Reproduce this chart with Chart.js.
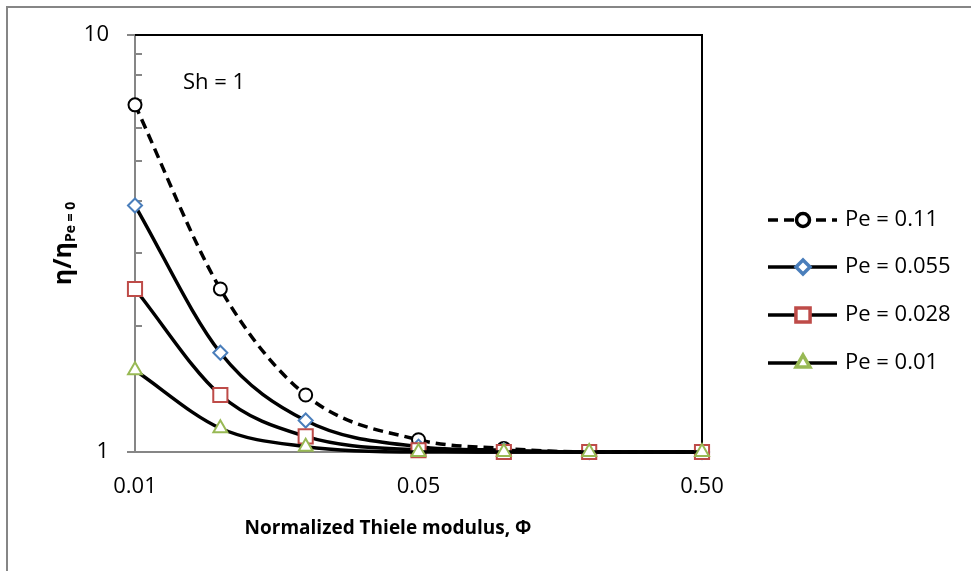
<!DOCTYPE html>
<html>
<head>
<meta charset="utf-8">
<script src="https://cdn.jsdelivr.net/npm/chart.js@4/dist/chart.umd.min.js"></script>
<style>
  html, body { margin: 0; padding: 0; background: #fff; }
</style>
</head>
<body>
<canvas id="ThieleChart" width="971" height="571"></canvas>
<script>
// normalized Thiele modulus (x) and eta / eta(Pe=0) for each Peclet number
var phi = [0.005, 0.01, 0.02, 0.05, 0.1, 0.2, 0.5];
var pe011 = [6.8, 2.46, 1.37, 1.07, 1.02, 1.0, 1.0];
var pe0055 = [3.9, 1.73, 1.19, 1.03, 1.01, 1.0, 1.0];
var pe0028 = [2.46, 1.37, 1.09, 1.01, 1.0, 1.0, 1.0];
var pe001 = [1.57, 1.14, 1.03, 1.0, 1.0, 1.0, 1.0];
var seriesNames = ['Pe = 0.11', 'Pe = 0.055', 'Pe = 0.028', 'Pe = 0.01'];

var xTickValues = [0.005, 0.05, 0.5];
var xTickLabels = ['0.01', '0.05', '0.50'];
var yTickValues = [1, 10];
var yTickLabels = ['1', '10'];

var FONT = "'Open Sans', 'Noto Sans', 'DejaVu Sans', sans-serif";
var AXIS_GREY = '#868686';

function pts(ys) {
  return phi.map(function (x, i) { return { x: x, y: ys[i] }; });
}

function series(name, ys, style, color, radius, dash, order) {
  return {
    label: name,
    data: pts(ys),
    borderColor: '#000',
    borderWidth: 3.5,
    borderDash: dash,
    cubicInterpolationMode: 'monotone',
    pointStyle: style,
    pointRadius: radius,
    pointHoverRadius: radius,
    pointBorderColor: color,
    pointBackgroundColor: '#fff',
    pointBorderWidth: 2,
    clip: false,
    order: order
  };
}

var datasets = [
  series(seriesNames[0], pe011, 'circle', '#000', 6.5, [10, 6], 4),
  series(seriesNames[1], pe0055, 'rectRot', '#4a7ebb', 7, [], 3),
  series(seriesNames[2], pe0028, 'rect', '#be4b48', 10, [], 2),
  series(seriesNames[3], pe001, 'triangle', '#98b954', 8, [], 1)
];

// frame, minor ticks, titles, note and legend
var decorations = {
  id: 'decorations',
  beforeDraw: function (chart) {
    var ctx = chart.ctx;
    ctx.save();
    ctx.fillStyle = '#fff';
    ctx.fillRect(0, 0, chart.width, chart.height);
    ctx.strokeStyle = AXIS_GREY;
    ctx.lineWidth = 2;
    ctx.strokeRect(7, 7, 2000, 2000);
    ctx.restore();
  },
  beforeDatasetsDraw: function (chart) {
    var ctx = chart.ctx, a = chart.chartArea, y = chart.scales.y;
    ctx.save();
    ctx.strokeStyle = '#000';
    ctx.lineWidth = 2;
    ctx.beginPath();
    ctx.moveTo(a.left, a.top);
    ctx.lineTo(a.right, a.top);
    ctx.lineTo(a.right, a.bottom);
    ctx.stroke();
    ctx.strokeStyle = AXIS_GREY;
    ctx.beginPath();
    for (var v = 2; v <= 9; v++) {
      var py = Math.round(y.getPixelForValue(v));
      ctx.moveTo(a.left, py);
      ctx.lineTo(a.left + 7, py);
    }
    ctx.stroke();
    ctx.restore();
  },
  afterDraw: function (chart) {
    var ctx = chart.ctx, a = chart.chartArea;
    ctx.save();
    ctx.fillStyle = '#000';

    // x axis title
    ctx.font = 'bold 19px ' + FONT;
    ctx.textAlign = 'center';
    ctx.textBaseline = 'middle';
    ctx.fillText('Normalized Thiele modulus, \u03A6', 388, 529);

    // y axis title with subscript
    ctx.save();
    ctx.translate(66, (a.top + a.bottom) / 2);
    ctx.rotate(-Math.PI / 2);
    ctx.textBaseline = 'alphabetic';
    ctx.textAlign = 'left';
    var main = '\u03B7/\u03B7', sub = 'Pe = 0';
    ctx.font = 'bold 25px ' + FONT;
    var w1 = ctx.measureText(main).width;
    ctx.font = 'bold 14px ' + FONT;
    var w2 = ctx.measureText(sub).width;
    var x0 = -(w1 + w2) / 2;
    ctx.font = 'bold 25px ' + FONT;
    ctx.fillText(main, x0, 5);
    ctx.font = 'bold 14px ' + FONT;
    ctx.fillText(sub, x0 + w1, 9);
    ctx.restore();

    // note
    ctx.font = '22px ' + FONT;
    ctx.textAlign = 'left';
    ctx.textBaseline = 'alphabetic';
    ctx.fillText('Sh = 1', 183, 89);

    // legend
    var rows = [220, 267, 315, 363];
    chart.data.datasets.forEach(function (ds, i) {
      var ly = rows[i];
      ctx.save();
      ctx.strokeStyle = ds.borderColor;
      ctx.lineWidth = 3.5;
      ctx.setLineDash(ds.borderDash);
      ctx.beginPath();
      ctx.moveTo(768, ly);
      ctx.lineTo(837, ly);
      ctx.stroke();
      ctx.setLineDash([]);
      ctx.strokeStyle = ds.pointBorderColor;
      ctx.fillStyle = ds.pointBackgroundColor;
      Chart.helpers.drawPoint(ctx, {
        pointStyle: ds.pointStyle,
        radius: ds.pointRadius,
        borderWidth: ds.pointBorderWidth,
        rotation: 0
      }, 803, ly);
      ctx.restore();
      ctx.font = '22px ' + FONT;
      ctx.textBaseline = 'middle';
      ctx.textAlign = 'left';
      ctx.fillText(ds.label, 845, ly);
    });
    ctx.restore();
  }
};

new Chart(document.getElementById('ThieleChart'), {
  type: 'line',
  data: { datasets: datasets },
  plugins: [decorations],
  options: {
    responsive: false,
    animation: false,
    devicePixelRatio: 1,
    layout: { padding: { left: 8, top: 35, right: 269, bottom: 0 } },
    plugins: {
      legend: { display: false },
      tooltip: { enabled: false }
    },
    scales: {
      x: {
        type: 'logarithmic',
        min: 0.005,
        max: 0.5,
        afterBuildTicks: function (s) {
          s.ticks = xTickValues.map(function (v) { return { value: v }; });
        },
        afterFit: function (s) { s.height = 119; },
        ticks: {
          callback: function (v, i) { return xTickLabels[i]; },
          font: { family: FONT, size: 22 },
          color: '#000',
          padding: 22,
          maxRotation: 0,
          autoSkip: false
        },
        grid: { display: false, drawTicks: false },
        border: { display: true, color: AXIS_GREY, width: 2 }
      },
      y: {
        type: 'logarithmic',
        min: 1,
        max: 10,
        afterBuildTicks: function (s) {
          s.ticks = yTickValues.map(function (v) { return { value: v }; });
        },
        afterFit: function (s) { s.width = 127; },
        ticks: {
          callback: function (v, i) { return yTickLabels[i]; },
          font: { family: FONT, size: 22 },
          color: '#000',
          padding: 18,
          autoSkip: false
        },
        grid: {
          display: true,
          drawOnChartArea: false,
          drawTicks: true,
          tickLength: 8,
          color: AXIS_GREY,
          lineWidth: 2
        },
        border: { display: true, color: AXIS_GREY, width: 2 }
      }
    }
  }
});
</script>
</body>
</html>
